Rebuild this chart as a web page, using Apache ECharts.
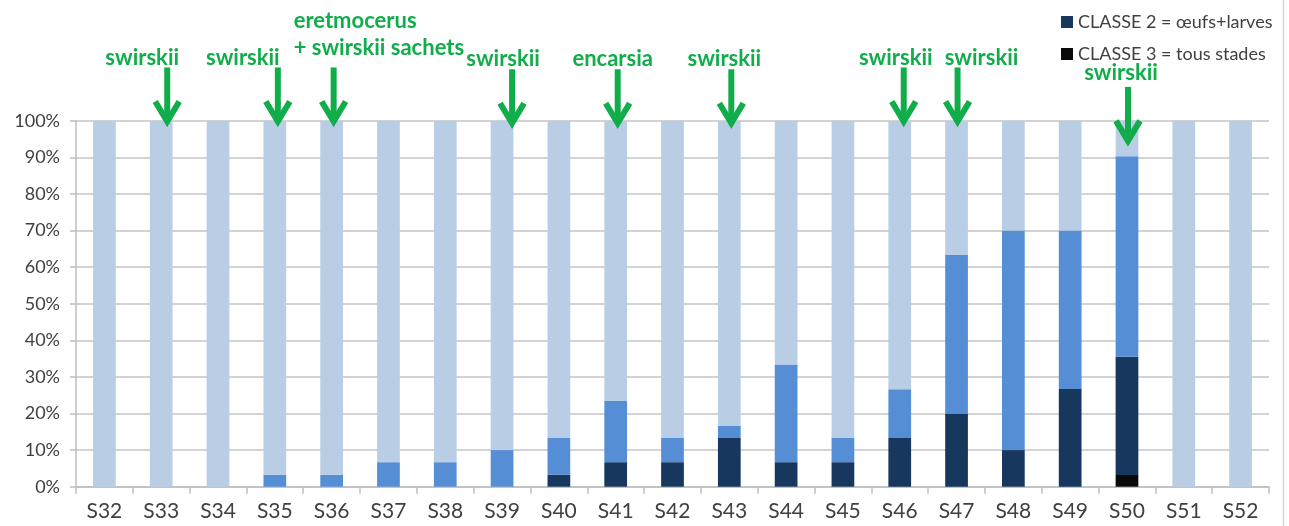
<!DOCTYPE html>
<html>
<head>
<meta charset="utf-8">
<script src="https://cdn.jsdelivr.net/npm/echarts@6/dist/echarts.min.js"></script>
<style>
html,body{margin:0;padding:0;background:#fff;}
#chart{width:1289px;height:526px;}
</style>
</head>
<body>
<div id="chart"></div>
<script>
// ---- data ----
const categories = ['S32','S33','S34','S35','S36','S37','S38','S39','S40','S41','S42','S43','S44','S45','S46','S47','S48','S49','S50','S51','S52'];
const classe3 = [0,0,0,0,0,0,0,0,0,0,0,0,0,0,0,0,0,0,3.2,0,0];
const classe2 = [0,0,0,0,0,0,0,0,3.3,6.7,6.7,13.3,6.7,6.7,13.3,20,10,26.7,32.3,0,0];
const classe1 = [0,0,0,3.3,3.3,6.7,6.7,10,10,16.7,6.7,3.3,26.7,6.7,13.3,43.3,60,43.3,54.8,0,0];
const classe0 = [100,100,100,96.7,96.7,93.3,93.3,90,86.7,76.7,86.7,83.3,66.7,86.7,73.3,36.7,30,30,9.7,100,100];
const legendNames = ['CLASSE 2 = œufs+larves','CLASSE 3 = tous stades'];
const annotCategories = ['S33','S35','S36','S39','S41','S43','S46','S47','S50'];
const annotTips = [98.7,98.7,98.7,98.2,98.2,98.2,98.7,98.7,93.4];
const annotTexts = ['swirskii','swirskii','eretmocerus\n+ swirskii sachets','swirskii','encarsia','swirskii','swirskii','swirskii','swirskii'];

// ---- layout (pixels, not data) ----
const arrowDx = [6,3,2,10,2,2,4,1,1];
const labelDx = [-19,-32,-38,1,-3,-5,-4,25,-6];
const labelDy = [-68,-68,-78,-68,-68,-68,-68,-68,-72];
const labelAlign = ['center','center','left','center','center','center','center','center','center'];

const FONT = "Lato,'Liberation Sans',Arial,sans-serif";
const GREEN = '#12ad4b';

const annotData = annotCategories.map((c,i)=>[categories.indexOf(c), annotTips[i], i]);

const chart = echarts.init(document.getElementById('chart'));
chart.setOption({
  animation:false,
  backgroundColor:'#fff',
  textStyle:{fontFamily:FONT},
  grid:{left:76,right:20,top:120.7,bottom:39.3,containLabel:false},
  legend:{
    data:legendNames,
    orient:'vertical',
    left:1056, top:8,
    itemWidth:12,itemHeight:12,itemGap:14,
    icon:'rect',
    textStyle:{fontFamily:FONT,fontSize:18,color:'#404040'},
    selectedMode:false
  },
  xAxis:{
    type:'category',
    data:categories,
    axisLine:{lineStyle:{color:'#bfbfbf',width:1.5}},
    axisTick:{show:true,length:7,lineStyle:{color:'#bfbfbf',width:1.5},alignWithLabel:false},
    axisLabel:{fontFamily:FONT,fontSize:21,color:'#404040',margin:14,interval:0}
  },
  yAxis:{
    type:'value',min:0,max:100,interval:10,
    axisLine:{show:true,lineStyle:{color:'#bfbfbf',width:1.5}},
    axisTick:{show:true,length:6,lineStyle:{color:'#bfbfbf',width:1.5}},
    splitLine:{lineStyle:{color:'#c4c4c4',width:1.5}},
    axisLabel:{formatter:'{value}%',fontFamily:FONT,fontSize:18,color:'#404040',margin:16}
  },
  graphic:[{type:'line',shape:{x1:1283.5,y1:0,x2:1283.5,y2:526},style:{stroke:'#d6d6d6',lineWidth:1.5}}],
  series:[
    {name:legendNames[1],type:'bar',stack:'t',barWidth:'40%',data:classe3,itemStyle:{color:'#0a0a0a'}},
    {name:legendNames[0],type:'bar',stack:'t',barWidth:'40%',data:classe2,itemStyle:{color:'#17375e'}},
    {name:'CLASSE 1',type:'bar',stack:'t',barWidth:'40%',data:classe1,itemStyle:{color:'#558ed5'}},
    {name:'CLASSE 0',type:'bar',stack:'t',barWidth:'40%',data:classe0,itemStyle:{color:'#b9cde5'}},
    {
      type:'custom',
      z:10,
      clip:false,
      silent:true,
      data:annotData,
      renderItem:function(params,api){
        const i = api.value(2);
        const p = api.coord([api.value(0), api.value(1)]);
        const x = p[0] + arrowDx[i];
        const tip = p[1];
        const lx = p[0] + labelDx[i];
        const lyBottom = tip + labelDy[i] + 13.5;
        return {
          type:'group',
          children:[
            {type:'line',shape:{x1:x,y1:tip-58,x2:x,y2:tip-4},style:{stroke:GREEN,lineWidth:6}},
            {type:'polyline',shape:{points:[[x-12,tip-24],[x,tip-4],[x+12,tip-24]]},style:{stroke:GREEN,lineWidth:6,fill:null,lineJoin:'miter',lineCap:'butt'}},
            {type:'text',style:{
              text:annotTexts[i],
              x:lx, y:lyBottom,
              fill:GREEN,
              font:'bold 22px '+FONT,
              lineHeight:27,
              align:labelAlign[i],
              verticalAlign:'bottom'
            }}
          ]
        };
      }
    }
  ]
});
</script>
</body>
</html>
